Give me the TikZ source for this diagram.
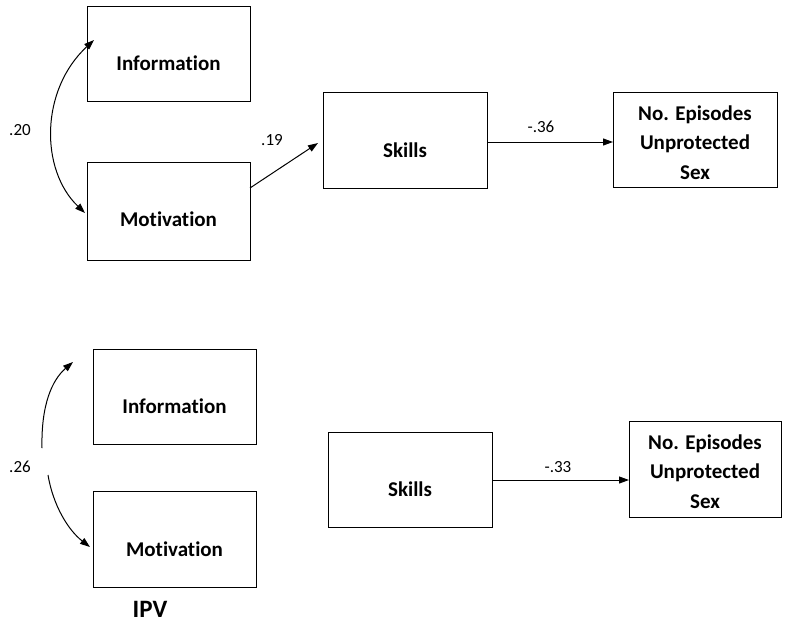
\documentclass[tikz,border=0pt]{standalone}
\usepackage{fontspec}
\setmainfont{Carlito}[Ligatures={NoCommon}]
\usetikzlibrary{arrows.meta}
\tikzset{
  box/.style={draw=black, line width=1pt, minimum width=163pt, minimum height=95pt, inner sep=0pt, outer sep=0pt},
  boxtext/.style={font=\bfseries\fontsize{21}{29.5}\selectfont, align=center, inner sep=0pt},
  coef/.style={font=\fontsize{17}{20}\selectfont, inner sep=0pt},
  path/.style={draw=black, line width=1pt, -{Triangle[length=10pt,width=7pt]}},
  cov/.style={draw=black, line width=1pt, {Triangle[length=10pt,width=7pt]}-{Triangle[length=10pt,width=7pt]}},
  half/.style={draw=black, line width=1pt, -{Triangle[length=10pt,width=7pt]}}
}
\begin{document}
\begin{tikzpicture}[x=1pt,y=-1pt]
\useasboundingbox (0,0) rectangle (800,624);
% top model
\node[box] (info1) at (168.5,53.5) {};
\node[box, minimum height=98pt] (mot1) at (168.5,211) {};
\node[box, minimum width=164pt, minimum height=96pt] (skills1) at (405,140) {};
\node[box, minimum width=164pt] (noep1) at (695,140) {};
\node[boxtext] (t-info1) at ([yshift=-10pt]info1.center) {Information};
\node[boxtext] (t-mot1) at ([yshift=-8.5pt]mot1.center) {Motivation};
\node[boxtext] (t-skills1) at ([yshift=-10pt]skills1.center) {Skills};
\node[boxtext] (t-noep1) at ([yshift=-2.5pt]noep1.center) {No. Episodes\\Unprotected\\Sex};
\coordinate (c1a) at (94,40);
\coordinate (c1b) at (85,213);
\draw[cov] (c1a) .. controls (40,90) and (40,170) .. (c1b);
\node[coef] (l20) at (20,130) {.20};
\coordinate (m1out) at (250,188);
\coordinate (s1in) at (318,143);
\draw[path] (m1out) -- (s1in);
\node[coef] (l19) at (272,140) {.19};
\draw[path] (skills1.east |- 0,142) coordinate (s1out) -- (noep1.west |- s1out);
\node[coef] (l36) at (541,127) {-.36};
% bottom model
\node[box] (info2) at (174.5,396.5) {};
\node[box, minimum height=96pt] (mot2) at (174.5,539) {};
\node[box, minimum width=164pt] (skills2) at (410,479.5) {};
\node[box, minimum width=152pt, minimum height=96pt] (noep2) at (705,469) {};
\node[boxtext] (t-info2) at ([yshift=-10pt]info2.center) {Information};
\node[boxtext] (t-mot2) at ([yshift=-10pt]mot2.center) {Motivation};
\node[boxtext] (t-skills2) at ([yshift=-10pt]skills2.center) {Skills};
\node[boxtext] (t-noep2) at ([yshift=-2.5pt]noep2.center) {No. Episodes\\Unprotected\\Sex};
\coordinate (c2a) at (42,448);
\coordinate (c2b) at (73,362);
\coordinate (c2c) at (48,475);
\coordinate (c2d) at (90,547);
\draw[half] (c2a) .. controls (41,405) and (52,380) .. (c2b);
\draw[half] (c2c) .. controls (53,505) and (68,530) .. (c2d);
\node[coef] (l26) at (20,467) {.26};
\draw[path] (skills2.east |- 0,480) coordinate (s2out) -- (noep2.west |- s2out);
\node[coef] (l33) at (558,467) {-.33};
\node[font=\bfseries\fontsize{25}{30}\selectfont, inner sep=0pt] (ipv) at (150,609) {IPV};
\end{tikzpicture}
\end{document}
